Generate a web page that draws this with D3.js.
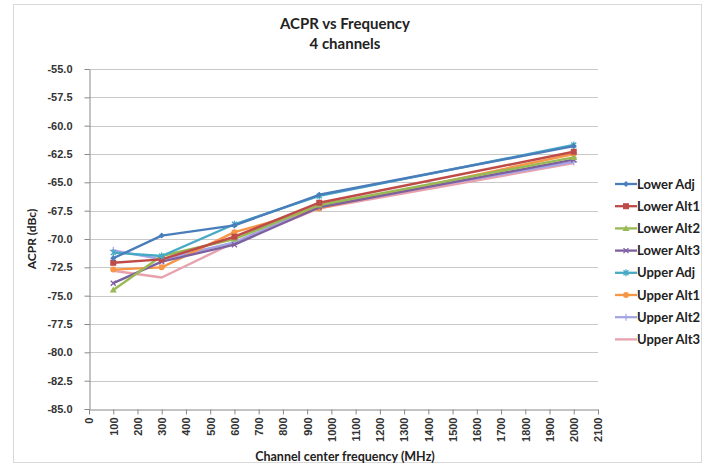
<!DOCTYPE html>
<html><head><meta charset="utf-8">
<script src="https://cdn.jsdelivr.net/npm/d3@7"></script>
<style>body{margin:0;background:#fff}svg{display:block;font-family:Lato,"Open Sans",sans-serif}</style>
</head><body><svg id="c" width="707" height="467"></svg>
<script>
const freqs = [100, 300, 600, 950, 2000];
const seriesNames = ["Lower Adj","Lower Alt1","Lower Alt2","Lower Alt3","Upper Adj","Upper Alt1","Upper Alt2","Upper Alt3"];
const lowerAdj  = [-71.7, -69.7, -68.8, -66.1, -61.8];
const lowerAlt1 = [-72.1, -71.8, -69.8, -66.8, -62.3];
const lowerAlt2 = [-74.5, -71.5, -70.0, -67.0, -62.8];
const lowerAlt3 = [-73.9, -72.0, -70.5, -67.2, -63.0];
const upperAdj  = [-71.2, -71.5, -68.7, -66.2, -61.7];
const upperAlt1 = [-72.7, -72.5, -69.4, -67.3, -62.5];
const upperAlt2 = [-71.0, -71.8, -70.3, -67.0, -63.2];
const upperAlt3 = [-72.8, -73.4, -70.3, -67.3, -63.3];
const yTicks = [-55,-57.5,-60,-62.5,-65,-67.5,-70,-72.5,-75,-77.5,-80,-82.5,-85];
const xTicks = d3.range(0, 2101, 100);
const colors = ["#4A7EBB","#BE4B48","#98B954","#7D60A0","#46AAC5","#F79646","#A5A5E6","#E8A2AE"];
const markers = ["diamond","square","triangle","cross","star","circle","plus","none"];
const values = [lowerAdj,lowerAlt1,lowerAlt2,lowerAlt3,upperAdj,upperAlt1,upperAlt2,upperAlt3];

const svg = d3.select("#c");
const L=89, R=598, T=69, B=409;
const x = d3.scaleLinear().domain([0,2100]).range([L,R]);
const y = d3.scaleLinear().domain([-85,-55]).range([B,T]);

svg.append("rect").attr("x",13.5).attr("y",4.5).attr("width",688).attr("height",458).attr("fill","none").attr("stroke","#d9d9d9");

svg.append("g").selectAll("line").data(yTicks.filter(d=>d>-85)).join("line")
  .attr("x1",L).attr("x2",R).attr("y1",d=>Math.round(y(d))+0.5).attr("y2",d=>Math.round(y(d))+0.5)
  .attr("stroke","#c8c8c8").attr("stroke-width",1.2);

const ya = svg.append("g").attr("transform",`translate(${L+0.5},0)`)
  .call(d3.axisLeft(y).tickValues(yTicks).tickFormat(d3.format(".1f")).tickSize(5).tickSizeOuter(0));
ya.select(".domain").attr("stroke","#888");
ya.selectAll(".tick line").attr("stroke","#888");
ya.selectAll("text").attr("font-size",11).attr("font-weight","bold").attr("fill","#333").attr("dx",-9)
  .text(d=> d3.format(".1f")(d).replace("−","-"));

const xa = svg.append("g").attr("transform",`translate(0,${B+0.5})`)
  .call(d3.axisBottom(x).tickValues(xTicks).tickSize(5).tickSizeOuter(0).tickFormat(d=>String(d)));
xa.select(".domain").attr("stroke","#888");
xa.selectAll(".tick line").attr("stroke","#888");
xa.selectAll("text").attr("font-size",11).attr("font-weight","bold").attr("fill","#333")
  .attr("transform","rotate(-90)").attr("text-anchor","end").attr("x",-8).attr("y",0).attr("dy","0.35em");

svg.append("text").attr("x",345).attr("y",29).attr("text-anchor","middle").attr("font-size",15).attr("font-weight","bold").attr("fill","#222").text("ACPR vs Frequency");
svg.append("text").attr("x",345).attr("y",49).attr("text-anchor","middle").attr("font-size",15).attr("font-weight","bold").attr("fill","#222").text("4 channels");
svg.append("text").attr("transform","translate(36,239) rotate(-90)").attr("text-anchor","middle").attr("font-size",12).attr("font-weight","bold").attr("fill","#222").text("ACPR (dBc)");
svg.append("text").attr("x",345).attr("y",461).attr("text-anchor","middle").attr("font-size",12.5).attr("font-weight","bold").attr("fill","#222").text("Channel center frequency (MHz)");

function drawMarker(g, type, cx, cy, col){
  const s=3;
  if(type==="diamond") g.append("path").attr("d",`M${cx},${cy-s}L${cx+s},${cy}L${cx},${cy+s}L${cx-s},${cy}Z`).attr("fill",col);
  else if(type==="square") g.append("rect").attr("x",cx-3).attr("y",cy-3).attr("width",6).attr("height",6).attr("fill",col);
  else if(type==="triangle") g.append("path").attr("d",`M${cx},${cy-3.5}L${cx+3.5},${cy+2.5}L${cx-3.5},${cy+2.5}Z`).attr("fill",col);
  else if(type==="cross") g.append("path").attr("d",`M${cx-2.5},${cy-2.5}L${cx+2.5},${cy+2.5}M${cx-2.5},${cy+2.5}L${cx+2.5},${cy-2.5}`).attr("stroke",col).attr("stroke-width",1.3);
  else if(type==="star") g.append("path").attr("d",`M${cx-2.5},${cy-2.5}L${cx+2.5},${cy+2.5}M${cx-2.5},${cy+2.5}L${cx+2.5},${cy-2.5}M${cx},${cy-3.5}L${cx},${cy+3.5}`).attr("stroke",col).attr("stroke-width",1.3);
  else if(type==="circle") g.append("circle").attr("cx",cx).attr("cy",cy).attr("r",3).attr("fill",col);
  else if(type==="plus") g.append("path").attr("d",`M${cx-3.5},${cy}L${cx+3.5},${cy}M${cx},${cy-3.5}L${cx},${cy+3.5}`).attr("stroke",col).attr("stroke-width",1.2);
}

const line = d3.line().x((d,i)=>x(freqs[i])).y(d=>y(d));
const order=[7,6,5,3,2,1,4,0];
order.forEach(k=>{
  const g=svg.append("g");
  g.append("path").attr("d",line(values[k])).attr("fill","none").attr("stroke",colors[k]).attr("stroke-width",2.4).attr("stroke-linejoin","round");
  values[k].forEach((v,i)=>drawMarker(g,markers[k],x(freqs[i]),y(v),colors[k]));
});

const lg = svg.append("g");
seriesNames.forEach((n,i)=>{
  const yy = 184 + i*22.2;
  lg.append("line").attr("x1",615).attr("x2",637).attr("y1",yy).attr("y2",yy).attr("stroke",colors[i]).attr("stroke-width",2.3);
  drawMarker(lg,markers[i],626,yy,colors[i]);
  lg.append("text").attr("x",637).attr("y",yy).attr("dy","0.35em").attr("font-size",13).attr("font-weight","bold").attr("fill","#222").text(n);
});
</script></body></html>
